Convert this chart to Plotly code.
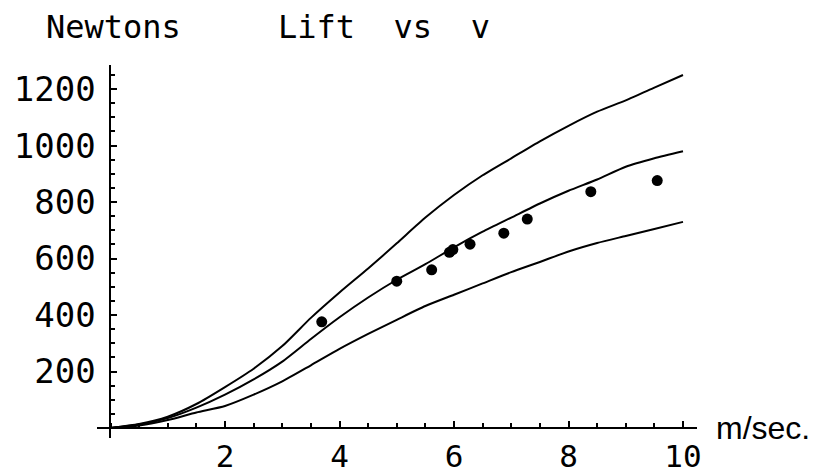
import plotly.graph_objects as go

# ---- data ----
speed = [0, 0.5, 1, 1.5, 2, 2.5, 3, 3.5, 4, 4.5, 5, 5.5, 6, 6.5, 7, 7.5, 8, 8.5, 9, 9.5, 10]
lift_upper = [0, 14, 40, 85, 145, 210, 290, 390, 480, 565, 654, 745, 825, 895, 955, 1015, 1070, 1120, 1160, 1205, 1250]
lift_middle = [0, 12, 35, 72, 118, 172, 235, 315, 392, 462, 525, 580, 640, 695, 745, 795, 840, 880, 925, 955, 980]
lift_lower = [0, 9, 28, 55, 78, 118, 165, 222, 280, 333, 383, 432, 472, 512, 552, 588, 625, 655, 680, 705, 730]

meas_speed = [3.69, 5.0, 5.61, 5.92, 5.98, 6.28, 6.87, 7.28, 8.39, 9.55]
meas_lift = [376, 520, 560, 622, 632, 651, 690, 740, 837, 876]

x_ticks = [2, 4, 6, 8, 10]
y_ticks = [200, 400, 600, 800, 1000, 1200]

x_range = [-0.2358, 10.2445]
y_range = [-35.4, 1285.4]

FONT = "DejaVu Sans Mono"

fig = go.Figure()
for ys in (lift_upper, lift_middle, lift_lower):
    fig.add_trace(go.Scatter(x=speed, y=ys, mode="lines",
                             line=dict(color="black", width=2, shape="spline", smoothing=0.6),
                             hoverinfo="skip"))
fig.add_trace(go.Scatter(x=meas_speed, y=meas_lift, mode="markers",
                         marker=dict(color="black", size=11, symbol="circle")))

xpos = (0 - x_range[0]) / (x_range[1] - x_range[0])
ypos = (0 - y_range[0]) / (y_range[1] - y_range[0])

# page body has an 8px margin, so the figure is drawn 8px in from the window corner
fig.update_layout(
    width=817, height=465,
    margin=dict(l=89, r=128, t=57, b=35),
    paper_bgcolor="white", plot_bgcolor="white",
    showlegend=False,
    font=dict(family=FONT, size=34, color="black"),
    xaxis=dict(range=x_range, anchor="free", position=ypos, showgrid=False, zeroline=False,
               showline=True, linecolor="black", linewidth=2,
               tickmode="array", tickvals=x_ticks, ticktext=[str(v) for v in x_ticks],
               ticks="inside", ticklen=6, tickwidth=2, tickcolor="black",
               ticklabelstandoff=1,
               minor=dict(tickmode="linear", tick0=0, dtick=0.5, ticks="inside",
                          ticklen=4, tickwidth=2, tickcolor="black", showgrid=False),
               tickfont=dict(family=FONT, size=31), automargin=False),
    yaxis=dict(range=y_range, anchor="free", position=xpos, showgrid=False, zeroline=False,
               showline=True, linecolor="black", linewidth=2,
               tickmode="array", tickvals=y_ticks, ticktext=[str(v) for v in y_ticks],
               ticks="inside", ticklen=6, tickwidth=2, tickcolor="black",
               ticklabelstandoff=7,
               minor=dict(tickmode="linear", tick0=0, dtick=50, ticks="inside",
                          ticklen=4, tickwidth=2, tickcolor="black", showgrid=False),
               tickfont=dict(family=FONT, size=34), automargin=False),
)

fig.add_annotation(text="Newtons", xref="paper", yref="paper",
                   x=(113 - 97) / 600, y=(438 - 27) / 373, xanchor="center", yanchor="middle",
                   showarrow=False, font=dict(family=FONT, size=32))
fig.add_annotation(text="Lift\u00a0\u00a0vs\u00a0\u00a0v", xref="paper", yref="paper",
                   x=(276 - 97) / 600, y=(438 - 27) / 373, xanchor="left", yanchor="middle",
                   showarrow=False, font=dict(family=FONT, size=32))
fig.add_annotation(text="m/sec.", xref="x", yref="y", x=x_range[1], y=0,
                   xanchor="left", yanchor="middle", xshift=17, yshift=0,
                   showarrow=False, font=dict(family="Liberation Sans", size=32))

fig.write_html("out.html")
